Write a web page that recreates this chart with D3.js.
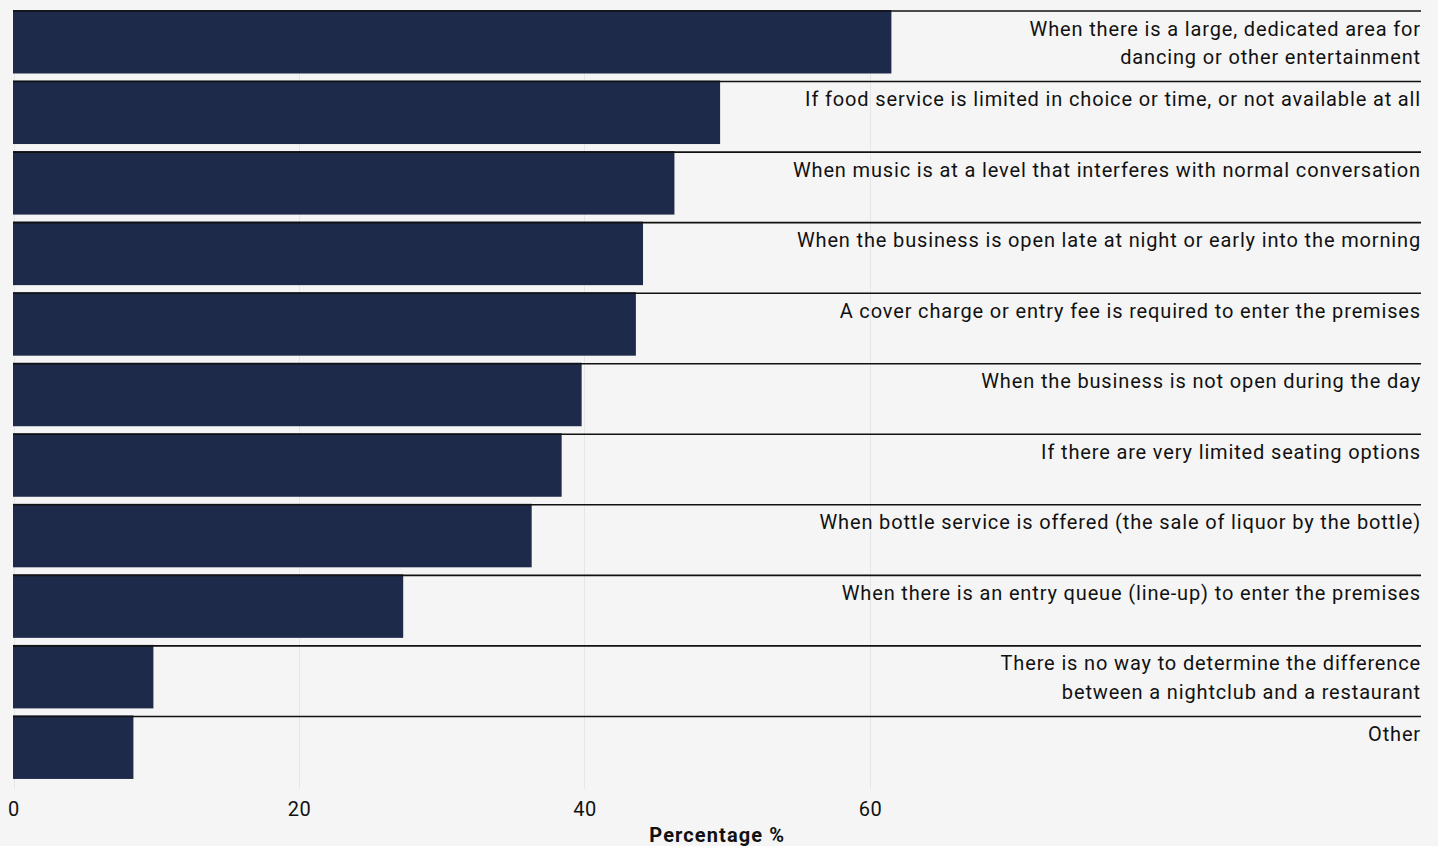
<!DOCTYPE html>
<html><head><meta charset="utf-8">
<script src="https://cdn.jsdelivr.net/npm/d3@7"></script>
<style>body{margin:0;background:#f5f5f5}svg{display:block}</style></head>
<body><svg id="c" width="1438" height="846"></svg>
<script>
const categories = [
  ["When there is a large, dedicated area for", "dancing or other entertainment"],
  ["If food service is limited in choice or time, or not available at all"],
  ["When music is at a level that interferes with normal conversation"],
  ["When the business is open late at night or early into the morning"],
  ["A cover charge or entry fee is required to enter the premises"],
  ["When the business is not open during the day"],
  ["If there are very limited seating options"],
  ["When bottle service is offered (the sale of liquor by the bottle)"],
  ["When there is an entry queue (line-up) to enter the premises"],
  ["There is no way to determine the difference", "between a nightclub and a restaurant"],
  ["Other"]
];
const values = [61.5, 49.5, 46.3, 44.1, 43.6, 39.8, 38.4, 36.3, 27.3, 9.8, 8.4];
const tickValues = [0, 20, 40, 60];
const axisTitle = "Percentage %";

const W = 1438, H = 846;
const mLeft = 13.5, mRight = 1421, mTop = 10, mBottom = 786;
const svg = d3.select("#c");
svg.append("rect").attr("width", W).attr("height", H).attr("fill", "#f5f5f5");

const x = d3.scaleLinear().domain([0, 98.6]).range([mLeft, mRight]);
const y = d3.scaleBand().domain(d3.range(categories.length)).range([mTop, mBottom]).paddingInner(0).paddingOuter(0);
const barH = y.bandwidth() * 0.9;

// gridlines
svg.append("g").selectAll("line").data(tickValues).join("line")
  .attr("x1", d => Math.round(x(d)) + 0.5).attr("x2", d => Math.round(x(d)) + 0.5)
  .attr("y1", mTop).attr("y2", 789)
  .attr("stroke", "#e6e6e6").attr("stroke-width", 1);

// bars
svg.append("g").selectAll("rect").data(values).join("rect")
  .attr("x", x(0) - 0.5)
  .attr("y", (d, i) => y(i))
  .attr("width", d => x(d) - x(0) + 0.5)
  .attr("height", barH)
  .attr("fill", "#1e2a4a");

// separator lines
svg.append("g").selectAll("line").data(categories).join("line")
  .attr("x1", mLeft - 0.5).attr("x2", mRight)
  .attr("y1", (d, i) => y(i) + 1).attr("y2", (d, i) => y(i) + 1)
  .attr("stroke", "#111").attr("stroke-width", 1.6);

// labels
const lab = svg.append("g").selectAll("text").data(categories).join("text")
  .attr("x", mRight)
  .attr("y", (d, i) => y(i) + 25.5)
  .attr("text-anchor", "end")
  .attr("font-family", "Roboto")
  .attr("font-size", 20)
  .attr("letter-spacing", 0.85)
  .attr("fill", "#111");
lab.selectAll("tspan").data(d => d).join("tspan")
  .attr("x", mRight)
  .attr("dy", (d, j) => j === 0 ? 0 : 28.5)
  .text(d => d);

// x axis
const ax = svg.append("g").attr("transform", `translate(0,${794})`)
  .call(d3.axisBottom(x).tickValues(tickValues).tickSize(0).tickPadding(8).tickFormat(d3.format("d")));
ax.select(".domain").remove();
ax.selectAll("text").attr("font-family", "Roboto").attr("font-size", 20).attr("letter-spacing", 0.6).attr("fill", "#111").attr("dy", "0.71em");

svg.append("text").attr("x", (mLeft + mRight) / 2).attr("y", 842)
  .attr("text-anchor", "middle").attr("font-family", "Roboto").attr("font-weight", "bold")
  .attr("font-size", 20).attr("letter-spacing", 1.1).attr("fill", "#111").text(axisTitle);
</script></body></html>
